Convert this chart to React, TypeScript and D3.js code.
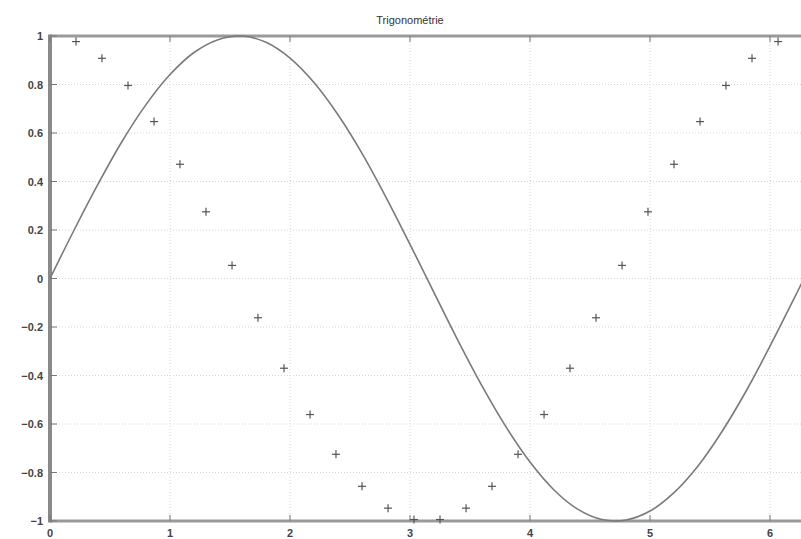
import React, { useEffect, useRef } from 'react';
import * as d3 from 'd3';

// sine curve
const lineX = [0, 0.2, 0.4, 0.6, 0.8, 1.0, 1.2, 1.4, 1.6, 1.8, 2.0, 2.2, 2.4, 2.6, 2.8, 3.0, 3.2,
  3.4, 3.6, 3.8, 4.0, 4.2, 4.4, 4.6, 4.8, 5.0, 5.2, 5.4, 5.6, 5.8, 6.0, 6.2, 6.2832];
const lineY = [0, 0.199, 0.389, 0.565, 0.717, 0.841, 0.932, 0.985, 1.0, 0.974, 0.909, 0.808, 0.675,
  0.516, 0.335, 0.141, -0.058, -0.256, -0.443, -0.612, -0.757, -0.872, -0.952, -0.994, -0.996,
  -0.959, -0.883, -0.773, -0.631, -0.465, -0.279, -0.083, 0];

// '+' markers
const markX = [0.217, 0.433, 0.65, 0.867, 1.083, 1.3, 1.517, 1.733, 1.95, 2.167, 2.383, 2.6, 2.817,
  3.033, 3.25, 3.467, 3.683, 3.9, 4.117, 4.333, 4.55, 4.767, 4.983, 5.2, 5.417, 5.633, 5.85, 6.067];
const markY = [0.977, 0.908, 0.796, 0.647, 0.471, 0.275, 0.054, -0.162, -0.37, -0.561, -0.725,
  -0.857, -0.947, -0.994, -0.994, -0.947, -0.857, -0.725, -0.561, -0.37, -0.162, 0.054, 0.275,
  0.471, 0.647, 0.796, 0.908, 0.977];

const xTicks = [0, 1, 2, 3, 4, 5, 6];
const yTicks = [-1, -0.8, -0.6, -0.4, -0.2, 0, 0.2, 0.4, 0.6, 0.8, 1];
const yTickLabels = ['\u22121', '\u22120.8', '\u22120.6', '\u22120.4', '\u22120.2', '0', '0.2', '0.4', '0.6', '0.8', '1'];
const title = 'Trigonométrie';

const W = 801;
const H = 539;

export default function App() {
  const ref = useRef<SVGSVGElement>(null);

  useEffect(() => {
    const svg = d3.select(ref.current);
    svg.selectAll('*').remove();

    const x = d3.scaleLinear().domain([0, 6.2832]).range([50, 804]);
    const y = d3.scaleLinear().domain([-1, 1]).range([521, 36]);

    svg.append('rect').attr('width', W).attr('height', H).attr('fill', '#fff');

    // grid
    const grid = svg.append('g').attr('stroke', '#d6d6d6').attr('stroke-width', 1).attr('stroke-dasharray', '1,2');
    grid.selectAll('.gx').data(xTicks.slice(1)).enter().append('line')
      .attr('x1', d => x(d)).attr('x2', d => x(d)).attr('y1', y(1)).attr('y2', y(-1));
    grid.selectAll('.gy').data(yTicks.slice(1, -1)).enter().append('line')
      .attr('x1', x(0)).attr('x2', W).attr('y1', d => y(d)).attr('y2', d => y(d));

    // axes box
    const ax = svg.append('g').attr('stroke', '#9a9a9a');
    ax.append('line').attr('x1', x(0)).attr('x2', W).attr('y1', y(1)).attr('y2', y(1)).attr('stroke-width', 3);
    ax.append('line').attr('x1', x(0)).attr('x2', W).attr('y1', y(-1)).attr('y2', y(-1)).attr('stroke-width', 3);
    ax.append('line').attr('x1', x(0)).attr('x2', x(0)).attr('y1', y(1) - 1.5).attr('y2', y(-1) + 1.5).attr('stroke-width', 4).attr('stroke', '#8a8a8a');

    // ticks
    const tk = svg.append('g').attr('stroke', '#777').attr('stroke-width', 1);
    tk.selectAll('.tt').data(xTicks).enter().append('line')
      .attr('x1', d => x(d)).attr('x2', d => x(d)).attr('y1', y(1)).attr('y2', y(1) + 6);
    tk.selectAll('.tb').data(xTicks).enter().append('line')
      .attr('x1', d => x(d)).attr('x2', d => x(d)).attr('y1', y(-1)).attr('y2', y(-1) - 6);
    tk.selectAll('.tl').data(yTicks).enter().append('line')
      .attr('x1', x(0)).attr('x2', x(0) + 7).attr('y1', d => y(d)).attr('y2', d => y(d));

    // tick labels
    svg.append('g').selectAll('text').data(yTicks).enter().append('text')
      .attr('x', 43).attr('y', d => y(d) + 4).attr('text-anchor', 'end')
      .style('font-family', 'Liberation Sans, Arial, sans-serif').style('font-size', '11px').style('font-weight', 'bold')
      .attr('fill', '#444').text((d, i) => yTickLabels[i]);
    svg.append('g').selectAll('text').data(xTicks).enter().append('text')
      .attr('x', d => x(d)).attr('y', 537).attr('text-anchor', 'middle')
      .style('font-family', 'Liberation Sans, Arial, sans-serif').style('font-size', '11px').style('font-weight', 'bold')
      .attr('fill', '#444').text(d => String(d));

    // title
    svg.append('text').attr('x', 410).attr('y', 24).attr('text-anchor', 'middle')
      .style('font-family', 'Liberation Sans, Arial, sans-serif').style('font-size', '11px')
      .attr('fill', '#333').text(title);

    // sine line
    const pts = lineX.map((v, i) => [v, lineY[i]] as [number, number]);
    const line = d3.line<[number, number]>().x(d => x(d[0])).y(d => y(d[1])).curve(d3.curveCatmullRom);
    svg.append('path').datum(pts).attr('d', line).attr('fill', 'none')
      .attr('stroke', '#7a7a7a').attr('stroke-width', 1.6);

    // markers
    const mk = svg.append('g').attr('stroke', '#555').attr('stroke-width', 1.2);
    markX.forEach((v, i) => {
      const cx = x(v);
      const cy = y(markY[i]);
      mk.append('line').attr('x1', cx - 4).attr('x2', cx + 4).attr('y1', cy).attr('y2', cy);
      mk.append('line').attr('x1', cx).attr('x2', cx).attr('y1', cy - 4).attr('y2', cy + 4);
    });
  }, []);

  return (
    <div style={{ position: 'absolute', left: 0, top: 0 }}>
      <svg ref={ref} width={W} height={H} style={{ display: 'block' }} />
    </div>
  );
}
